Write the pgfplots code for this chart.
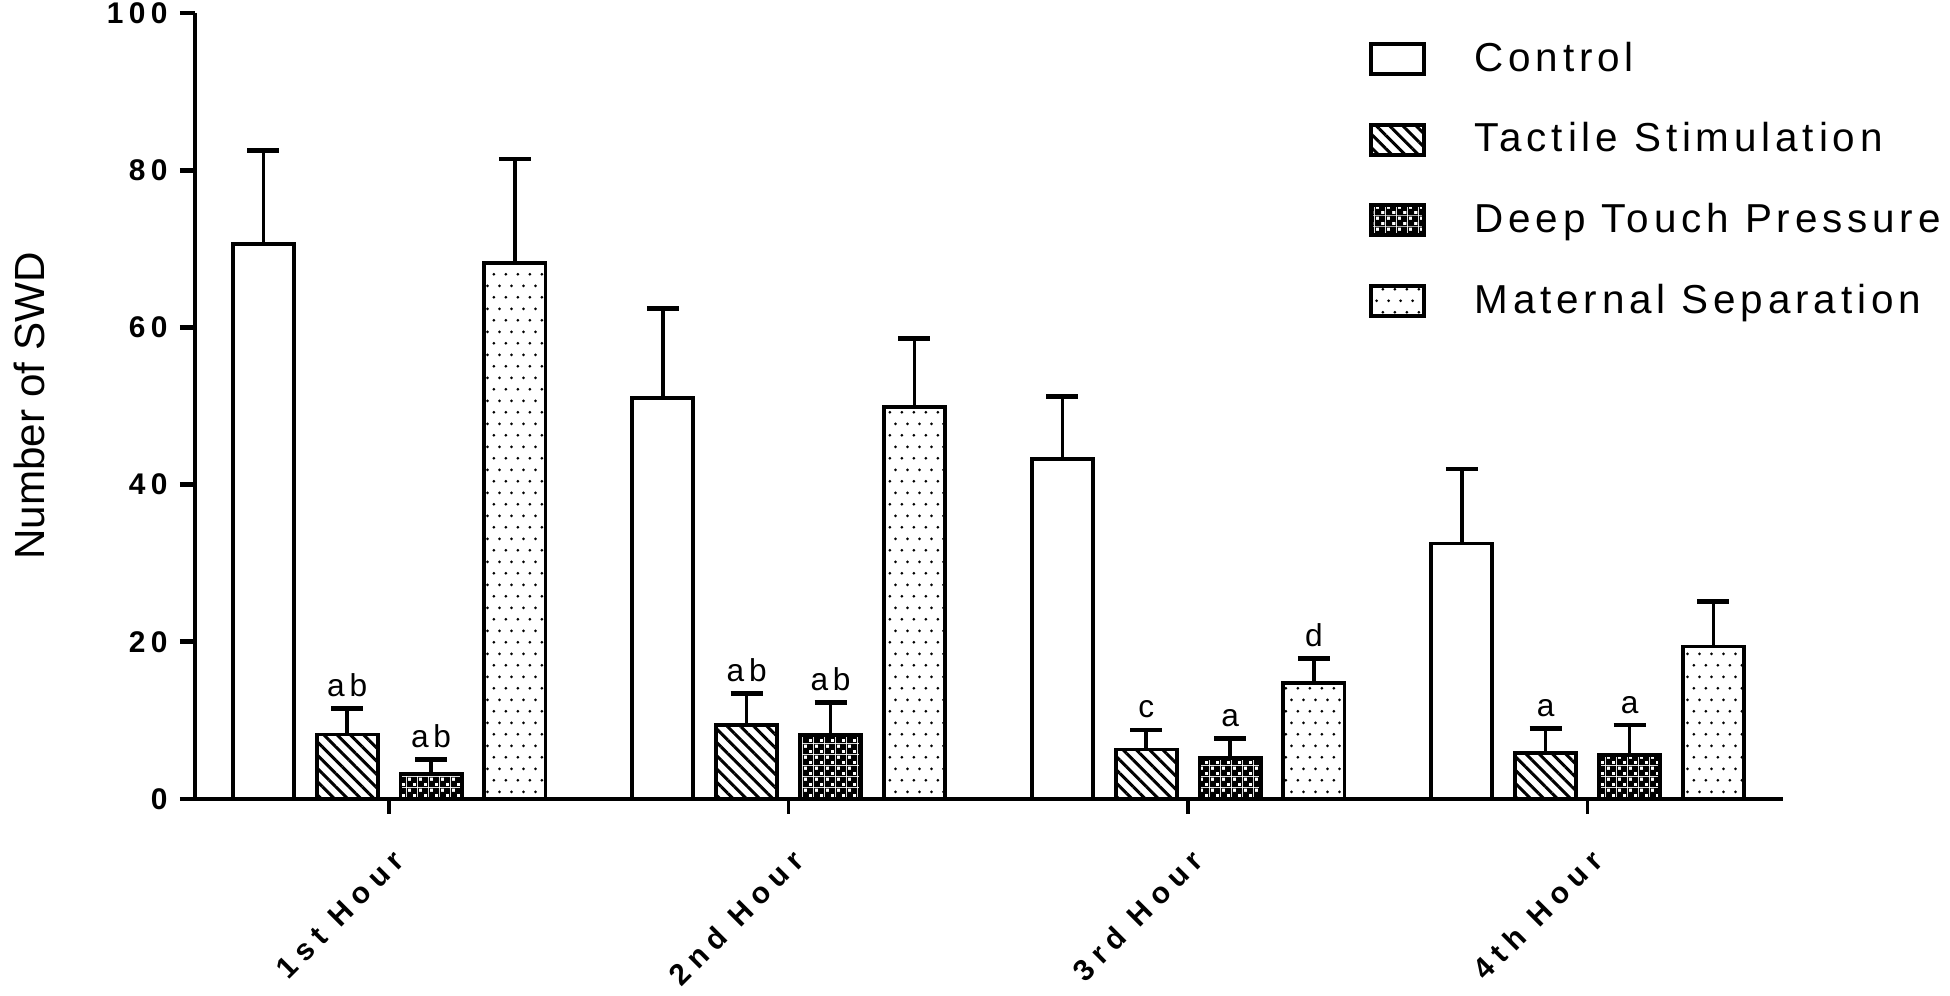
\documentclass[border=0pt]{standalone}
\usepackage{fontspec}
\setmainfont{Liberation Sans}
\newfontfamily\ytickfont[LetterSpace=18]{Liberation Sans}
\newfontfamily\xtickfont[LetterSpace=25]{Liberation Sans}
\newfontfamily\legfont[LetterSpace=12]{Liberation Sans}
\newfontfamily\annfont[LetterSpace=15]{Liberation Sans}
\usepackage{pgfplots}
\pgfplotsset{compat=1.18}
\usepackage{pgfplotstable}
\usetikzlibrary{patterns.meta}

\tikzdeclarepattern{
  name=checker, type=uncolored,
  bottom left={(0cm,0cm)}, top right={(0.11cm,0.11cm)},
  tile size={(0.11cm,0.11cm)},
  code={
    \fill[even odd rule] (0cm,0cm) rectangle (0.11cm,0.11cm)
      (0.01cm,0.065cm) rectangle (0.045cm,0.1cm)
      (0.065cm,0.01cm) rectangle (0.1cm,0.045cm);
  }
}
\tikzdeclarepattern{
  name=msdots, type=uncolored,
  bottom left={(0cm,0cm)}, top right={(0.117cm,0.234cm)},
  tile size={(0.117cm,0.234cm)},
  code={
    \fill (0.029cm,0.0585cm) circle (0.015cm);
    \fill (0.0875cm,0.1755cm) circle (0.015cm);
  }
}

% bar centres: group index plus -0.315, -0.105, 0.105, 0.315
\pgfplotstableread{
xc ctl ctle xt ts tse xd dtp dtpe xm ms mse
-0.315 70.6 11.9 -0.105 8.2 3.3 0.105 3.2 1.8 0.315 68.2 13.2
0.685 51.0 11.4 0.895 9.4 4.0 1.105 8.1 4.2 1.315 49.9 8.7
1.685 43.3 7.9 1.895 6.3 2.5 2.105 5.2 2.5 2.315 14.8 3.1
2.685 32.5 9.5 2.895 5.9 3.1 3.105 5.6 3.8 3.315 19.4 5.7
}\data

\pgfplotstableread{
x y lab
-0.105 11.5 ab
0.105 5.0 ab
0.895 13.4 ab
1.105 12.3 ab
1.895 8.8 c
2.105 7.7 a
2.315 17.9 d
2.895 9.0 a
3.105 9.4 a
}\labs

\begin{document}
\begin{tikzpicture}
\path[use as bounding box] (-1.95cm,-1.97cm) rectangle (17.55cm,7.99cm);
\begin{axis}[
  scale only axis, width=15.88cm, height=7.86cm,
  xmin=-0.486, xmax=3.489, ymin=0, ymax=100,
  axis x line=bottom, axis y line=left,
  axis line style={-, line width=1.4pt},
  clip=false,
  tick align=outside,
  major tick length=0.15cm,
  xtick={0,1,2,3},
  xticklabels={1st Hour,2nd Hour,3rd Hour,4th Hour},
  xtick style={line width=1pt, black},
  ytick={0,20,40,60,80,100},
  ytick style={line width=1.4pt, black},
  minor tick num=0,
  /pgf/number format/assume math mode=true,
  yticklabel style={font=\ytickfont\bfseries\fontsize{8.5}{10}\selectfont},
  xticklabel style={font=\xtickfont\bfseries\fontsize{8.5}{10}\selectfont, xshift=0.18cm, yshift=-0.33cm, rotate=45, anchor=east},
  ylabel={Number of SWD},
  ylabel style={font=\fontsize{12}{14}\selectfont, at={(axis description cs:-0.0945,0.5)}, anchor=base, inner sep=0pt},
  legend style={draw=none, fill=none, at={(axis description cs:0.732,0.982)}, anchor=north west,
    row sep=0.32cm, font=\legfont\fontsize{11.5}{13}\selectfont, cells={anchor=west},
    nodes={inner xsep=0.2cm}},
  legend image code/.code={\draw[#1, line width=1.1pt] (0cm,-0.15cm) rectangle (0.53cm,0.15cm); \path (0.82cm,0cm);},
  error bars/error bar style={line width=1pt, black},
  error bars/error mark options={rotate=90, line width=1.3pt, mark size=0.16cm, black},
]
\addplot[ybar, bar width=0.153, bar shift=0, draw=black, line width=1.1pt, fill=white,
  error bars/.cd, y dir=plus, y explicit]
  table[x=xc, y=ctl, y error=ctle] {\data};
\addlegendentry{Control}
\addplot[ybar, bar width=0.153, bar shift=0, draw=black, line width=1.1pt,
  pattern={Lines[angle=-45, distance=0.094cm, line width=0.03cm]}, pattern color=black,
  error bars/.cd, y dir=plus, y explicit]
  table[x=xt, y=ts, y error=tse] {\data};
\addlegendentry{Tactile Stimulation}
\addplot[ybar, bar width=0.153, bar shift=0, draw=black, line width=1.1pt,
  pattern=checker, pattern color=black,
  error bars/.cd, y dir=plus, y explicit]
  table[x=xd, y=dtp, y error=dtpe] {\data};
\addlegendentry{Deep Touch Pressure}
\addplot[ybar, bar width=0.153, bar shift=0, draw=black, line width=1.1pt,
  pattern=msdots, pattern color=black,
  error bars/.cd, y dir=plus, y explicit]
  table[x=xm, y=ms, y error=mse] {\data};
\addlegendentry{Maternal Separation}
\addplot[draw=none, mark=none, forget plot, nodes near coords, point meta=explicit symbolic,
  nodes near coords style={anchor=base, inner sep=0pt, yshift=0.12cm, font=\annfont\fontsize{9}{10}\selectfont, black}]
  table[x=x, y=y, meta=lab] {\labs};
\end{axis}
\end{tikzpicture}
\end{document}
